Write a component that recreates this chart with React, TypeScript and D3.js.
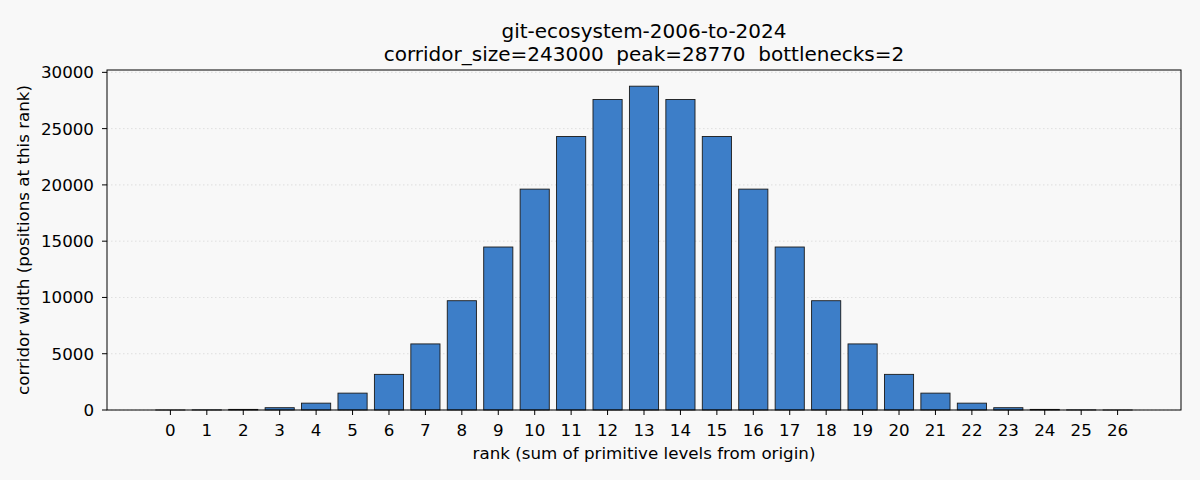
import React from 'react'
import * as d3 from 'd3'

// positions at each rank of the corridor
const ranks = d3.range(0, 27)
const widths = [
  1, 10, 54, 205, 609, 1499, 3166, 5871, 9710, 14481, 19625, 24299, 27585,
  28770, 27585, 24299, 19625, 14481, 9710, 5871, 3166, 1499, 609, 205, 54,
  10, 1,
]
const yTicks = [0, 5000, 10000, 15000, 20000, 25000, 30000]
const titleLines = [
  'git-ecosystem-2006-to-2024',
  'corridor_size=243000  peak=28770  bottlenecks=2',
]

const W = 1200
const H = 480
const left = 107
const right = 1181
const top = 70
const bottom = 410
const font = 'DejaVu Sans, sans-serif'

export default function App() {
  const barW = 0.8
  const x = d3
    .scaleLinear()
    .domain([-barW / 2 - 1.34, ranks.length - 1 + barW / 2 + 1.34])
    .range([left, right])
  const peak = d3.max(widths) as number
  const y = d3.scaleLinear().domain([0, peak * 1.05]).range([bottom, top])

  return (
    <svg
      width={W}
      height={H}
      style={{ position: 'fixed', left: 0, top: 0, display: 'block' }}
      fontFamily={font}
    >
      <rect width={W} height={H} fill="#f8f8f8" />

      {/* grid */}
      {yTicks.map(t => (
        <line
          key={'g' + t}
          x1={left}
          x2={right}
          y1={y(t)}
          y2={y(t)}
          stroke="#cccccc"
          strokeWidth={0.8}
          strokeDasharray="1.5,2.5"
          opacity={0.7}
        />
      ))}

      {/* bars */}
      {ranks.map((r, i) => (
        <rect
          key={r}
          x={x(r - barW / 2)}
          y={y(widths[i])}
          width={x(r + barW / 2) - x(r - barW / 2)}
          height={bottom - y(widths[i])}
          fill="#3d7ec8"
          stroke="#1a1a1a"
          strokeWidth={0.9}
        />
      ))}

      {/* frame */}
      <rect
        x={left}
        y={top}
        width={right - left}
        height={bottom - top}
        fill="none"
        stroke="#000"
        strokeWidth={1}
      />

      {/* x axis */}
      {ranks.map(r => (
        <g key={'x' + r} transform={`translate(${x(r)},${bottom})`}>
          <line y2={5} stroke="#000" strokeWidth={1} />
          <text y={26} textAnchor="middle" fontSize={16.7} fill="#000">
            {r}
          </text>
        </g>
      ))}

      {/* y axis */}
      {yTicks.map(t => (
        <g key={'y' + t} transform={`translate(${left},${y(t)})`}>
          <line x2={-5} stroke="#000" strokeWidth={1} />
          <text
            x={-13}
            dy="0.36em"
            textAnchor="end"
            fontSize={16.7}
            fill="#000"
          >
            {t}
          </text>
        </g>
      ))}

      <text
        x={(left + right) / 2}
        y={459}
        textAnchor="middle"
        fontSize={16.7}
        fill="#000"
      >
        rank (sum of primitive levels from origin)
      </text>
      <text
        transform={`translate(29,${(top + bottom) / 2}) rotate(-90)`}
        textAnchor="middle"
        fontSize={16.7}
        fill="#000"
      >
        corridor width (positions at this rank)
      </text>

      {titleLines.map((l, i) => (
        <text
          key={l}
          x={(left + right) / 2}
          y={38 + i * 22.5}
          textAnchor="middle"
          fontSize={20}
          fill="#000"
          style={{ whiteSpace: 'pre' }}
        >
          {l}
        </text>
      ))}
    </svg>
  )
}
